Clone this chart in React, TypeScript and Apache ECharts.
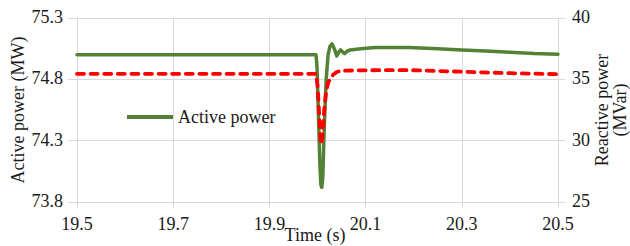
import React, { useEffect, useRef } from "react";
import * as echarts from "echarts";

const X_MIN = 19.5;
const X_STEP = 0.2;
const X_TICKS = ["19.5", "19.7", "19.9", "20.1", "20.3", "20.5"];
const LEFT_MIN = 73.8;
const LEFT_STEP = 0.5;
const LEFT_TICKS = ["73.8", "74.3", "74.8", "75.3"];
const RIGHT_TICKS = [25, 30, 35, 40];

const activeTime = [
  19.5, 19.997, 19.999, 20.002, 20.005, 20.007, 20.009, 20.011, 20.014, 20.018, 20.022, 20.026,
  20.03, 20.035, 20.04, 20.044, 20.048, 20.052, 20.056, 20.062, 20.068, 20.09, 20.12, 20.19,
  20.25, 20.3, 20.35, 20.4, 20.45, 20.5,
];
const activePower = [
  75.0, 75.0, 74.9, 74.5, 74.1, 73.94, 73.92, 74.0, 74.4, 74.8, 75.0, 75.07,
  75.09, 75.05, 74.99, 75.02, 75.04, 75.025, 75.01, 75.03, 75.04, 75.05, 75.06, 75.06,
  75.05, 75.04, 75.03, 75.02, 75.01, 75.005,
];

const reactiveTime = [
  19.5, 19.997, 20.0, 20.003, 20.006, 20.008, 20.011, 20.014, 20.018, 20.022, 20.027, 20.033,
  20.04, 20.05, 20.08, 20.15, 20.2, 20.3, 20.4, 20.5,
];
const reactivePower = [
  35.45, 35.45, 34.5, 32.5, 30.2, 29.7, 30.8, 32.5, 34.0, 34.7, 35.1, 35.4,
  35.6, 35.7, 35.73, 35.75, 35.74, 35.62, 35.5, 35.42,
];

const FONT = "Liberation Serif";
const TEXT = "#1a1a1a";
const GRID = "#d9d9d9";
const GREEN = "#548235";
const RED = "#ff0000";

export default function App() {
  const ref = useRef<HTMLDivElement>(null);
  useEffect(() => {
    document.body.style.margin = "0";
    if (!ref.current) return;
    const chart = echarts.init(ref.current, undefined, { renderer: "svg" });
    const greenData = activeTime.map((t, i) => [t - X_MIN, activePower[i] - LEFT_MIN]);
    const redData = reactiveTime.map((t, i) => [t - X_MIN, reactivePower[i]]);
    chart.setOption({
      animation: false,
      textStyle: { fontFamily: FONT, color: TEXT },
      grid: { left: 77, right: 72, top: 18, bottom: 44 },
      legend: {
        data: ["Active power"],
        left: 127,
        top: 108,
        padding: 0,
        icon: "rect",
        itemWidth: 46,
        itemHeight: 4,
        itemGap: 5,
        textStyle: { fontFamily: FONT, fontSize: 18, color: TEXT },
      },
      xAxis: {
        type: "value",
        min: 0,
        max: (X_TICKS.length - 1) * X_STEP,
        interval: X_STEP,
        axisLine: { show: true, lineStyle: { color: GRID, width: 1 } },
        axisTick: { show: true, length: 6, lineStyle: { color: GRID } },
        splitLine: { show: true, lineStyle: { color: GRID, width: 1 } },
        axisLabel: { show: false },
      },
      yAxis: [
        {
          type: "value",
          position: "left",
          min: 0,
          max: (LEFT_TICKS.length - 1) * LEFT_STEP,
          interval: LEFT_STEP,
          axisLine: { show: true, lineStyle: { color: GRID } },
          axisTick: { show: true, length: 9, lineStyle: { color: GRID } },
          splitLine: { show: true, lineStyle: { color: GRID, width: 1 } },
          axisLabel: { show: false },
        },
        {
          type: "value",
          position: "right",
          min: RIGHT_TICKS[0],
          max: RIGHT_TICKS[RIGHT_TICKS.length - 1],
          interval: 5,
          axisLine: { show: true, lineStyle: { color: GRID } },
          axisTick: { show: true, length: 7, lineStyle: { color: GRID } },
          splitLine: { show: false },
          axisLabel: { show: false },
        },
      ],
      series: [
        {
          name: "Active power",
          type: "line",
          yAxisIndex: 0,
          data: greenData,
          symbol: "none",
          lineStyle: { color: GREEN, width: 3.5, join: "round", cap: "round" },
          itemStyle: { color: GREEN },
          z: 2,
        },
        {
          name: "Reactive power",
          type: "line",
          yAxisIndex: 1,
          data: redData,
          symbol: "none",
          lineStyle: { color: RED, width: 3.8, type: [7, 6.6], cap: "round", join: "round" },
          itemStyle: { color: RED },
          z: 3,
        },
      ],
    });

    const tickStyle = (text: string, align: string) => ({
      text,
      fontFamily: FONT,
      fontSize: 18,
      fill: TEXT,
      align,
      verticalAlign: "middle",
    });
    const labels: any[] = [];
    X_TICKS.forEach((lbl, i) => {
      const px = chart.convertToPixel({ xAxisIndex: 0 }, i * X_STEP) as number;
      labels.push({ type: "text", x: px, y: 224, style: tickStyle(lbl, "center") });
    });
    LEFT_TICKS.forEach((lbl, i) => {
      const py = chart.convertToPixel({ yAxisIndex: 0 }, i * LEFT_STEP) as number;
      labels.push({ type: "text", x: 63, y: py - 1, style: tickStyle(lbl, "right") });
    });
    RIGHT_TICKS.forEach((v) => {
      const py = chart.convertToPixel({ yAxisIndex: 1 }, v) as number;
      labels.push({ type: "text", x: 572, y: py - 1, style: tickStyle(String(v), "left") });
    });

    chart.setOption({
      graphic: [
        ...labels,
        {
          type: "text",
          x: 18,
          y: 110,
          rotation: Math.PI / 2,
          style: {
            text: "Active power (MW)",
            fontFamily: FONT,
            fontSize: 18,
            fill: TEXT,
            align: "center",
            verticalAlign: "middle",
          },
        },
        {
          type: "text",
          x: 611,
          y: 110,
          rotation: Math.PI / 2,
          style: {
            text: "Reactive power\n(MVar)",
            fontFamily: FONT,
            fontSize: 18,
            lineHeight: 18,
            fill: TEXT,
            align: "center",
            verticalAlign: "middle",
          },
        },
        {
          type: "text",
          x: 315,
          y: 235,
          style: {
            text: "Time (s)",
            fontFamily: FONT,
            fontSize: 18,
            fill: TEXT,
            align: "center",
            verticalAlign: "middle",
          },
        },
      ],
    });
    return () => chart.dispose();
  }, []);
  return <div ref={ref} style={{ width: 630, height: 246 }} />;
}
